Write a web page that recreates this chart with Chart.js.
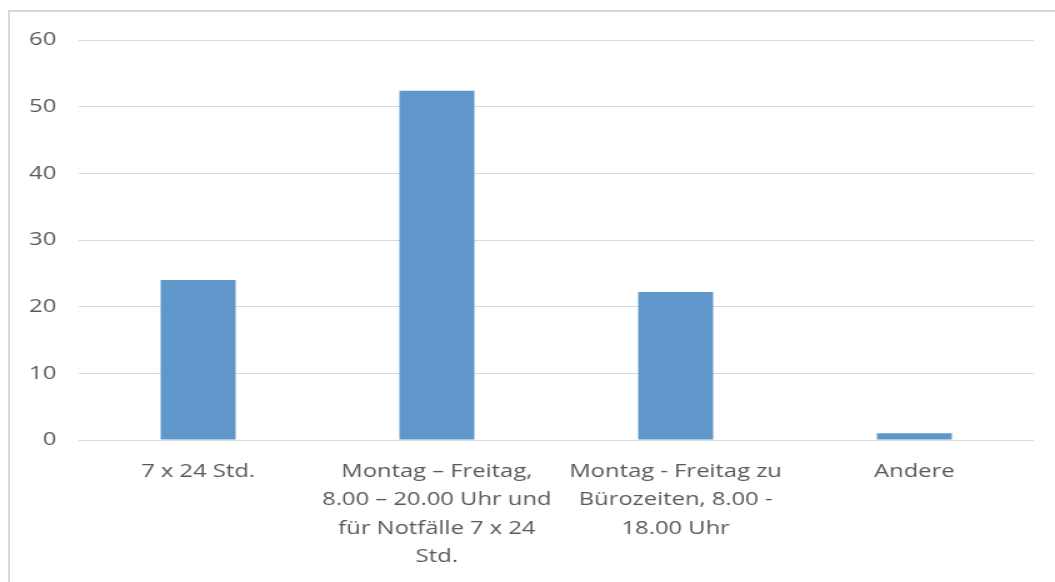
<!DOCTYPE html>
<html>
<head>
<meta charset="utf-8">
<script src="https://cdn.jsdelivr.net/npm/chart.js@4/dist/chart.umd.min.js"></script>
<style>
  html, body { margin: 0; padding: 0; background: #fff; overflow: hidden; }
  #frame {
    position: absolute; left: 8px; top: 10px; width: 1100px; height: 620px;
    border: 2px solid #d9d9d9; box-sizing: border-box;
  }
  /* the source image is stretched horizontally, so the canvas is too */
  #stretch {
    position: absolute; left: 0; top: 0; width: 844px; height: 582px;
    transform: scale(1.25, 1); transform-origin: 0 0;
  }
</style>
</head>
<body>
<div id="frame"></div>
<div id="stretch"><canvas id="chart" width="844" height="582"></canvas></div>
<script>
const categories = [
  ["7 x 24 Std."],
  ["Montag – Freitag,", "8.00 – 20.00 Uhr und", "für Notfälle 7 x 24", "Std."],
  ["Montag - Freitag zu", "Bürozeiten, 8.00 -", "18.00 Uhr"],
  ["Andere"],
];
const values = [24, 52.4, 22.2, 1];
const yTicks = [0, 10, 20, 30, 40, 50, 60];

const textColor = "#595959";
const gridColor = "#d9d9d9";
const barColor = "#6097ca";

new Chart(document.getElementById("chart"), {
  type: "bar",
  data: {
    labels: categories,
    datasets: [
      {
        data: values,
        backgroundColor: barColor,
        borderWidth: 0,
        barPercentage: 0.314,
        categoryPercentage: 1,
      },
    ],
  },
  options: {
    responsive: false,
    animation: false,
    devicePixelRatio: 1,
    layout: { padding: { left: 0, right: 17, top: 40, bottom: 0 } },
    plugins: { legend: { display: false }, tooltip: { enabled: false } },
    scales: {
      x: {
        grid: { display: false, drawTicks: false },
        border: { display: false },
        ticks: {
          color: textColor,
          padding: 17,
          maxRotation: 0,
          autoSkip: false,
          font: { family: "'Open Sans'", size: 19, lineHeight: 1.5 },
        },
        afterFit: (scale) => { scale.height = 142; },
      },
      y: {
        min: 0,
        max: 60,
        afterBuildTicks: (scale) => {
          scale.ticks = yTicks.map((v) => ({ value: v }));
        },
        grid: { color: gridColor, lineWidth: 1, drawTicks: false },
        border: { display: false },
        ticks: {
          color: textColor,
          padding: 18,
          font: { family: "'Open Sans'", size: 19 },
        },
        afterFit: (scale) => { scale.width = 63; },
      },
    },
  },
});
</script>
</body>
</html>
